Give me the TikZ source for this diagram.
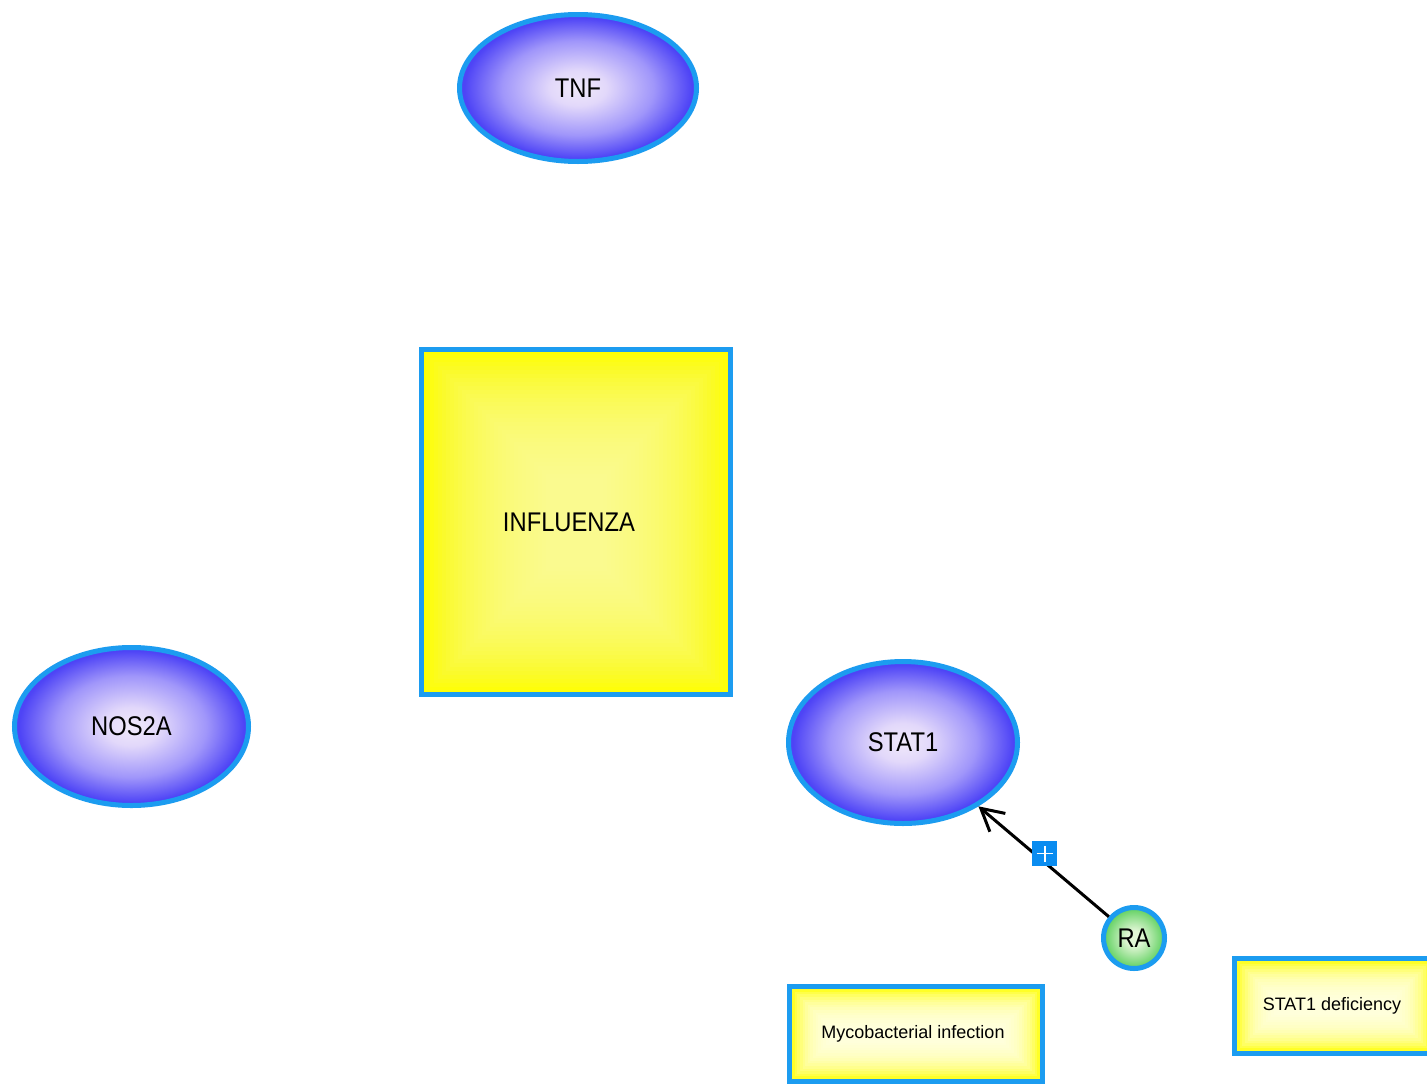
\documentclass[tikz,border=0pt]{standalone}
\usepackage{fontspec}
\setmainfont{Liberation Sans}
\newfontfamily\labelfont[FakeStretch=0.88]{Liberation Sans}
\usetikzlibrary{shapes.geometric,arrows.meta}

\definecolor{rimblue}{RGB}{28,156,240}
\definecolor{markblue}{RGB}{10,140,240}
\definecolor{genein}{RGB}{240,233,250}
\definecolor{genemid}{RGB}{226,216,250}
\definecolor{genering}{RGB}{160,150,250}
\definecolor{geneout}{RGB}{78,68,246}
\definecolor{diseaseout}{RGB}{255,255,0}
\definecolor{diseaseglow}{RGB}{250,250,175}
\definecolor{noteglow}{RGB}{255,255,236}
\definecolor{drugin}{RGB}{226,246,214}
\definecolor{drugout}{RGB}{100,210,100}

% radial fill for ovals and the round drug node; 25bp is the rim
\pgfdeclareradialshading{geneshade}{\pgfpoint{0bp}{0bp}}{%
  color(0bp)=(genein); color(6bp)=(genemid); color(16bp)=(genering);
  color(24bp)=(geneout); color(50bp)=(geneout)}
\pgfdeclareradialshading{drugshade}{\pgfpoint{0bp}{0bp}}{%
  color(0bp)=(drugin); color(6bp)=(drugin); color(24bp)=(drugout); color(50bp)=(drugout)}

\tikzset{
  % yellow box whose pale centre fades out towards all four sides:
  % #1 = glow colour, #2 = inset step, #3 = number of steps, #4 = opacity
  boxglow/.style n args={4}{fill=diseaseout,
    path picture={
      \foreach \k in {1,...,#3}{
        \fill[#1, fill opacity=#4]
          ([xshift=\k*#2, yshift=\k*#2]path picture bounding box.south west)
          rectangle
          ([xshift=-\k*#2, yshift=-\k*#2]path picture bounding box.north east);
      }}},
  gene/.style={ellipse, draw=rimblue, line width=5pt, shading=geneshade,
    inner sep=0pt, font=\labelfont\fontsize{27}{31}\selectfont},
  disease/.style={rectangle, draw=rimblue, line width=5pt,
    boxglow={diseaseglow}{4pt}{32}{0.06},
    inner sep=0pt, font=\labelfont\fontsize{27}{31}\selectfont},
  smalldisease/.style={rectangle, draw=rimblue, line width=5pt,
    boxglow={noteglow}{2.6pt}{15}{0.17},
    inner sep=0pt, font=\fontsize{18}{22}\selectfont},
  drug/.style={circle, draw=rimblue, line width=5pt, shading=drugshade,
    inner sep=0pt, minimum size=61pt, font=\labelfont\fontsize{27}{31}\selectfont},
  effect/.style={draw=black, line width=3pt,
    -{Straight Barb[length=22pt,width=24pt,line width=3pt]}},
  plusmark/.style={rectangle, fill=markblue, minimum size=25pt, inner sep=0pt,
    path picture={\draw[-, white, line width=1.8pt]
      ([xshift=-8pt]path picture bounding box.center) -- ([xshift=8pt]path picture bounding box.center)
      ([yshift=-8pt]path picture bounding box.center) -- ([yshift=8pt]path picture bounding box.center);}}
}

\begin{document}
\begin{tikzpicture}[x=1pt,y=-1pt]
  \useasboundingbox[fill=white] (0,0) rectangle (1427,1087);

  % genes
  \node[gene, minimum width=237pt, minimum height=147pt] (tnf)   at (578,88)    {TNF};
  \node[gene, minimum width=234pt, minimum height=158pt] (nos2a) at (131.5,726.5) {NOS2A};
  \node[gene, minimum width=229pt, minimum height=162pt] (stat1) at (903,742.5) {STAT1};

  % diseases
  \node[disease, minimum width=309pt, minimum height=345pt] (influenza) at (576,522)
    {INFLUENZA\kern14pt};
  \node[smalldisease, minimum width=253pt, minimum height=95pt] (myco) at (916,1034)
    {Mycobacterial infection\kern6pt};
  \node[smalldisease, minimum width=199pt, minimum height=95pt] (stat1def) at (1334,1006)
    {STAT1 deficiency\kern4pt};

  % drug
  \node[drug] (ra) at (1134,938) {RA};

  % activation from RA to STAT1
  \draw[effect] (ra) -- (stat1)
    node[plusmark, pos=0.5, xshift=1pt, yshift=8pt] (plus) {};
\end{tikzpicture}
\end{document}
